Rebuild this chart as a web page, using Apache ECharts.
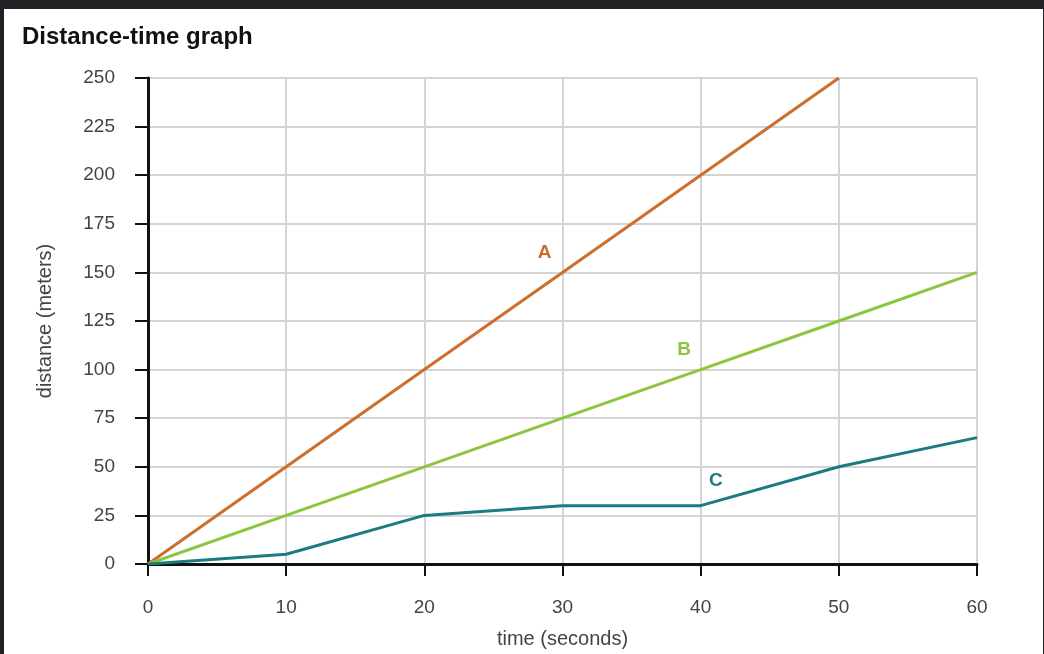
<!DOCTYPE html>
<html>
<head>
<meta charset="utf-8">
<script src="https://cdn.jsdelivr.net/npm/echarts@6/dist/echarts.min.js"></script>
<style>
html,body{margin:0;padding:0;background:#fff;}
#chart{width:1044px;height:654px;}
</style>
</head>
<body>
<div id="chart"></div>
<script>
// 数据
var timeA = [0, 10, 20, 30, 40, 50];
var distA = [0, 50, 100, 150, 200, 250];
var timeB = [0, 10, 20, 30, 40, 50, 60];
var distB = [0, 25, 50, 75, 100, 125, 150];
var timeC = [0, 10, 20, 30, 40, 50, 60];
var distC = [0, 5, 25, 30, 30, 50, 65];
var lineNames = ['A', 'B', 'C'];
var labelPos = [[28.7, 160], [38.8, 110], [41.1, 43]];
var colors = ['#cc6e2e', '#8cc63f', '#1c7b80'];

function pairs(xs, ys){
	var out = [];
	for (var i = 0; i < xs.length; i++) out.push([xs[i], ys[i]]);
	return out;
}

function makeSeries(idx, xs, ys){
	return {
		name: lineNames[idx],
		type: 'line',
		data: pairs(xs, ys),
		symbol: 'none',
		lineStyle: {color: colors[idx], width: 3},
		markPoint: {
			symbol: 'circle',
			symbolSize: 0,
			label: {
				show: true,
				formatter: lineNames[idx],
				color: colors[idx],
				fontWeight: 'bold',
				fontSize: 19,
				fontFamily: 'Liberation Sans, Arial, sans-serif'
			},
			data: [{coord: labelPos[idx]}]
		}
	};
}

var myChart = echarts.init(document.getElementById('chart'));
var font = 'Liberation Sans, Arial, sans-serif';
var option = {
	backgroundColor: '#fff',
	animation: false,
	title: {
		text: 'Distance-time graph',
		left: 17,
		top: 20,
		textStyle: {fontSize: 24, fontWeight: 'bold', color: '#111', fontFamily: font}
	},
	graphic: [
		{type: 'rect', left: 0, top: 0, shape: {width: 1044, height: 9}, style: {fill: '#202124'}},
		{type: 'rect', left: 0, top: 0, shape: {width: 4, height: 654}, style: {fill: '#202124'}},
		{type: 'rect', left: 1043, top: 0, shape: {width: 1, height: 654}, style: {fill: '#202124'}}
	],
	grid: {left: 148, right: 67, top: 78, bottom: 86},
	xAxis: {
		type: 'value',
		min: 0, max: 60, interval: 10,
		name: 'time (seconds)',
		nameLocation: 'middle',
		nameGap: 65,
		nameTextStyle: {fontSize: 20, color: '#444', fontFamily: font},
		axisLine: {lineStyle: {color: '#111', width: 3}},
		axisTick: {show: true, length: 12, lineStyle: {color: '#111', width: 2}},
		axisLabel: {margin: 34, fontSize: 19, color: '#444', fontFamily: font},
		splitLine: {show: true, lineStyle: {color: '#d4d4d4', width: 2}}
	},
	yAxis: {
		type: 'value',
		min: 0, max: 250, interval: 25,
		name: 'distance (meters)',
		nameLocation: 'middle',
		nameGap: 93,
		nameTextStyle: {fontSize: 20, color: '#444', fontFamily: font},
		axisLine: {show: true, lineStyle: {color: '#111', width: 3}},
		axisTick: {show: true, length: 13, lineStyle: {color: '#111', width: 2}},
		axisLabel: {margin: 33, fontSize: 19, color: '#444', fontFamily: font},
		splitLine: {show: true, lineStyle: {color: '#d4d4d4', width: 2}}
	},
	series: [
		makeSeries(0, timeA, distA),
		makeSeries(1, timeB, distB),
		makeSeries(2, timeC, distC)
	]
};
myChart.setOption(option);
</script>
</body>
</html>
